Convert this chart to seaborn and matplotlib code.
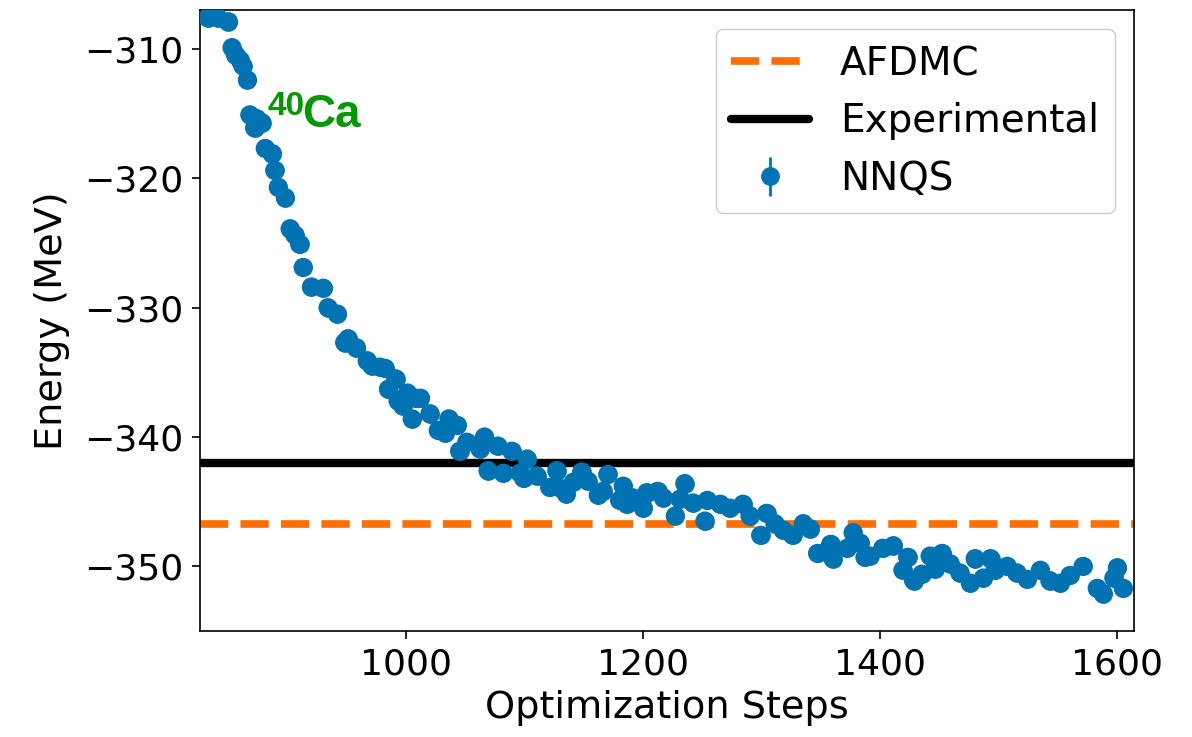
import matplotlib
matplotlib.use("Agg")
import matplotlib.pyplot as plt
import seaborn as sns
import pandas as pd

# ---- data ----
steps = [833, 841, 850, 853, 856, 860, 862, 866, 868, 872, 874, 878, 881, 887, 889,
         892, 898, 902, 906, 910, 913, 920, 930, 934, 942, 948, 951, 958, 967, 971,
         978, 982, 985, 991, 993, 997, 1001, 1005, 1008, 1012, 1020, 1027, 1033, 1036,
         1043, 1045, 1051, 1062, 1066, 1069, 1077, 1082, 1089, 1096, 1099, 1102, 1110,
         1121, 1127, 1131, 1135, 1141, 1148, 1153, 1162, 1166, 1170, 1180, 1183, 1186,
         1191, 1200, 1203, 1212, 1217, 1227, 1231, 1235, 1242, 1252, 1254, 1265, 1273,
         1284, 1290, 1299, 1304, 1311, 1318, 1326, 1335, 1341, 1347, 1358, 1360, 1372,
         1377, 1383, 1387, 1391, 1402, 1411, 1419, 1423, 1428, 1435, 1442, 1446, 1452,
         1459, 1467, 1476, 1480, 1487, 1493, 1497, 1507, 1515, 1524, 1535, 1543, 1552,
         1560, 1571, 1583, 1588, 1597, 1600, 1605]
energy = [-307.6, -307.6, -307.9, -309.9, -310.5, -310.9, -311.3, -312.4, -315.1, -316.1,
          -315.4, -315.7, -317.7, -318.1, -319.4, -320.7, -321.5, -323.9, -324.4, -325.1,
          -326.9, -328.4, -328.5, -330.0, -330.5, -332.7, -332.4, -333.1, -334.1, -334.5,
          -334.6, -334.7, -336.3, -335.5, -337.2, -337.6, -336.6, -338.6, -337.0, -337.0,
          -338.2, -339.5, -339.7, -338.6, -339.1, -341.1, -340.4, -340.9, -340.0, -342.6,
          -340.7, -342.8, -341.1, -342.8, -343.2, -341.7, -343.0, -343.9, -342.6, -344.0,
          -344.4, -343.5, -342.7, -343.4, -344.5, -344.2, -342.9, -344.9, -343.8, -345.2,
          -344.7, -345.5, -344.3, -344.2, -344.7, -346.1, -344.8, -343.6, -345.1, -346.5,
          -344.9, -345.2, -345.5, -345.2, -346.1, -347.6, -345.9, -346.7, -347.2, -347.6,
          -346.7, -347.1, -349.0, -348.3, -349.4, -348.6, -347.4, -348.2, -349.3, -349.2,
          -348.6, -348.4, -350.3, -349.3, -351.1, -350.6, -349.2, -350.2, -349.0, -349.8,
          -350.5, -351.3, -349.4, -350.9, -349.4, -350.3, -350.0, -350.5, -351.0, -350.3,
          -351.1, -351.3, -350.7, -350.0, -351.7, -352.1, -350.9, -350.1, -351.7]
nnqs_err = 0.6
afdmc_energy = -346.7
experimental_energy = -342.0

x_ticks = [1000, 1200, 1400, 1600]
y_ticks = [-350, -340, -330, -320, -310]

df = pd.DataFrame({"step": steps, "energy": energy})

# ---- style ----
sns.set_theme(style="ticks")
plt.rcParams["font.family"] = ["DejaVu Sans"]
plt.rcParams["axes.edgecolor"] = "black"
plt.rcParams["axes.linewidth"] = 1.2
plt.rcParams["text.color"] = "black"

blue = "#0173B2"
orange = "#FF6E00"
green = "#009900"

fig = plt.figure(figsize=(11.92, 7.37), dpi=100)
ax = fig.add_axes([0.1678, 0.1438, 0.9513 - 0.1678, 0.9864 - 0.1438])

ax.axhline(afdmc_energy, color=orange, lw=5.5, ls="--", label="AFDMC", zorder=2)
ax.axhline(experimental_energy, color="black", lw=6, ls="-", label="Experimental", zorder=2)

sns.scatterplot(data=df, x="step", y="energy", ax=ax, color=blue, s=190,
                edgecolor="none", legend=False, zorder=3)
ax.errorbar(df["step"], df["energy"], yerr=nnqs_err, fmt="o", ms=13.5, color=blue,
            mew=0, elinewidth=2.0, capsize=0, label="NNQS", zorder=3)

ax.set_xlim(826, 1614)
ax.set_ylim(-355, -307)
ax.set_xticks(x_ticks)
ax.set_yticks(y_ticks)
ax.tick_params(axis="both", labelsize=26, length=6, width=1.2, direction="out",
               color="black", labelcolor="black", pad=6)
for s in ax.spines.values():
    s.set_visible(True)
    s.set_color("black")

ax.set_xlabel("Optimization Steps", fontsize=27.5, color="black", labelpad=6)
ax.set_ylabel("Energy (MeV)", fontsize=27.5, color="black", labelpad=10)

leg = ax.legend(loc="upper right", fontsize=28, frameon=True, fancybox=True,
                framealpha=1.0, edgecolor="#cccccc", borderaxespad=0.5)
for t in leg.get_texts():
    t.set_color("black")

fig.text(268 / 1192, 1 - 91 / 737, "40", fontsize=24, fontweight="bold", color=green,
         family=["Liberation Sans", "DejaVu Sans"], ha="left", va="top")
fig.text(302 / 1192, 1 - 127 / 737, "Ca", fontsize=33, fontweight="bold", color=green,
         family=["Liberation Sans", "DejaVu Sans"], ha="left", va="baseline")

fig.savefig("out.png", dpi=100)
